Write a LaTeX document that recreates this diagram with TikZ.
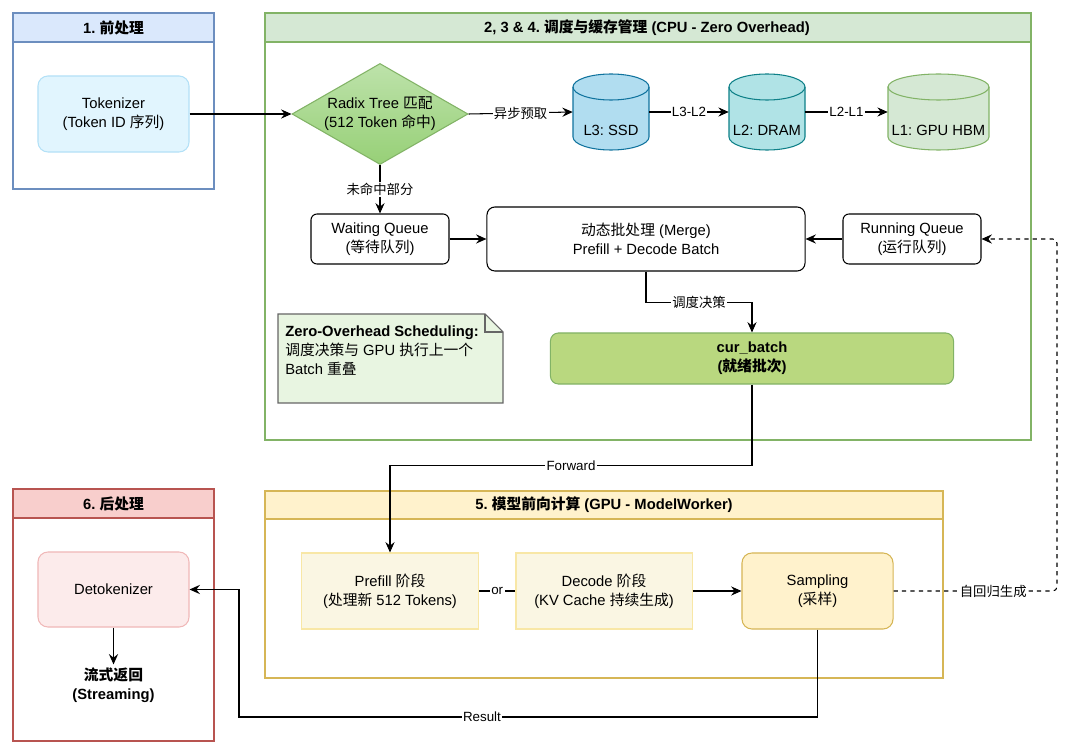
\documentclass[tikz,border=0pt]{standalone}
\usepackage{fontspec}
\setmainfont{Liberation Sans}
\newfontfamily\cjk{Noto Sans CJK SC}
\newcommand{\zh}[1]{{\cjk #1}}
\usetikzlibrary{shapes.geometric}
\usetikzlibrary{arrows.meta}
\frenchspacing

\definecolor{blueline}{HTML}{6C8EBF}
\definecolor{bluefill}{HTML}{DAE8FC}
\definecolor{greenline}{HTML}{82B366}
\definecolor{greenfill}{HTML}{D5E8D4}
\definecolor{yellowline}{HTML}{D6B656}
\definecolor{yellowfill}{HTML}{FFF2CC}
\definecolor{redline}{HTML}{B85450}
\definecolor{redfill}{HTML}{F8CECC}
\definecolor{tokfill}{HTML}{E1F5FE}
\definecolor{tokline}{HTML}{B3E1F7}
\definecolor{detokfill}{HTML}{FCEBEB}
\definecolor{detokline}{HTML}{F0B8B8}
\definecolor{stagefill}{HTML}{FAF6E3}
\definecolor{stageline}{HTML}{F8E7A6}
\definecolor{diamtop}{HTML}{BDE2AA}
\definecolor{diambot}{HTML}{97D077}
\definecolor{batchfill}{HTML}{B9D87F}
\definecolor{notefill}{HTML}{E8F5E1}
\definecolor{ssdfill}{HTML}{B1DDF0}
\definecolor{ssdline}{HTML}{10739E}
\definecolor{dramfill}{HTML}{B0E3E6}
\definecolor{dramline}{HTML}{0E8088}
\definecolor{hbmfill}{HTML}{D5E8D4}
\definecolor{hbmline}{HTML}{82B366}

\begin{document}
\begin{tikzpicture}[x=0.025cm, y=-0.025cm,
    font=\fontsize{10.5}{13.6}\selectfont,
    every node/.style={align=center, inner sep=0pt},
    lanetitle/.style={font=\fontsize{10.5}{13.6}\selectfont\bfseries},
    box/.style={draw, line width=0.75pt, rounded corners=0.15cm},
    arr/.style={-{Stealth[length=2.6mm, width=2.3mm, inset=0.9mm]}, line width=0.75pt},
    line/.style={line width=0.75pt},
    elabel/.style={fill=white, inner sep=1pt, font=\fontsize{9.5}{11}\selectfont}]

  \fill[white] (0,0) rectangle (1080,754);
  \useasboundingbox (0,0) rectangle (1080,754);

  % lanes
  \draw[line, draw=blueline] (13,13) rectangle (214,189);
  \draw[line, draw=blueline, fill=bluefill] (13,13) rectangle (214,42);
  \node[lanetitle] (pre-title) at (113.5,27.5) {1. \zh{前处理}};

  \draw[line, draw=greenline] (265,13) rectangle (1031,440);
  \draw[line, draw=greenline, fill=greenfill] (265,13) rectangle (1031,42);
  \node[lanetitle] (sched-title) at (647,27.5) {2, 3 \& 4. \zh{调度与缓存管理} (CPU - Zero Overhead)};

  \draw[line, draw=yellowline] (265,491) rectangle (943,678);
  \draw[line, draw=yellowline, fill=yellowfill] (265,491) rectangle (943,519);
  \node[lanetitle] (gpu-title) at (604,505) {5. \zh{模型前向计算} (GPU - ModelWorker)};

  \draw[line, draw=redline] (13,489) rectangle (214,741);
  \draw[line, draw=redline, fill=redfill] (13,489) rectangle (214,518);
  \node[lanetitle] (post-title) at (113.5,503.5) {6. \zh{后处理}};

  % nodes
  \node[box, draw=tokline, fill=tokfill, rounded corners=0.25cm, minimum width=3.775cm, minimum height=1.9cm]
    (tok) at (113.5,114) {Tokenizer\\(Token ID \zh{序列})};
  \node[diamond, draw=greenline, line width=0.75pt, top color=diamtop, bottom color=diambot,
    aspect=1.74, minimum width=4.4cm, minimum height=2.525cm]
    (radix) at (380,114) {Radix Tree \zh{匹配}\\(512 Token \zh{命中})};

  \foreach \n/\cx/\hw/\fc/\dc/\t in {ssd/611/38/ssdfill/ssdline/L3: SSD,
      dram/767/38/dramfill/dramline/L2: DRAM, hbm/938.5/50.5/hbmfill/hbmline/L1: GPU HBM}
  {
    \filldraw[line, fill=\fc, draw=\dc] ({\cx-\hw},87) -- ({\cx-\hw},137)
      arc[start angle=180, end angle=360, x radius=\hw*0.025cm, y radius=0.325cm]
      -- ({\cx+\hw},87)
      arc[start angle=0, end angle=180, x radius=\hw*0.025cm, y radius=0.325cm] -- cycle;
    \draw[line, draw=\dc] ({\cx-\hw},87)
      arc[start angle=180, end angle=360, x radius=\hw*0.025cm, y radius=0.325cm];
    \node[minimum width=2*\hw*0.025cm, minimum height=1.9cm] (\n) at (\cx,112) {};
    \node (\n-txt) at (\cx,130) {\t};
  }

  \node[box, minimum width=3.45cm, minimum height=1.25cm] (wait) at (380,239) {Waiting Queue\\(\zh{等待队列})};
  \node[box, rounded corners=0.2cm, minimum width=7.95cm, minimum height=1.6cm] (merge) at (646,239)
    {\zh{动态批处理} (Merge)\\Prefill + Decode Batch};
  \node[box, minimum width=3.45cm, minimum height=1.25cm] (run) at (912,239) {Running Queue\\(\zh{运行队列})};

  \filldraw[line, draw=black!60, fill=notefill] (278,314) -- (485,314) -- (503,332) -- (503,403) -- (278,403) -- cycle;
  \draw[line, draw=black!60] (485,314) -- (485,332) -- (503,332);
  \node[anchor=north west, align=left, font=\fontsize{10.5}{13.2}\selectfont] (note) at (285,326)
    {\textbf{Zero-Overhead Scheduling:}\\\zh{调度决策与} GPU \zh{执行上一个}\\Batch \zh{重叠}};

  \node[box, draw=greenline, fill=batchfill, rounded corners=0.2cm, minimum width=10.075cm, minimum height=1.275cm,
    font=\fontsize{10.5}{13.6}\selectfont\bfseries] (batch) at (752,358.5) {cur\_batch\\(\zh{就绪批次})};

  \node[draw=stageline, fill=stagefill, line width=0.75pt, minimum width=4.425cm, minimum height=1.9cm]
    (prefill) at (390,591) {Prefill \zh{阶段}\\(\zh{处理新} 512 Tokens)};
  \node[draw=stageline, fill=stagefill, line width=0.75pt, minimum width=4.4cm, minimum height=1.9cm]
    (decode) at (604,591) {Decode \zh{阶段}\\(KV Cache \zh{持续生成})};
  \node[box, draw=yellowline, fill=yellowfill, rounded corners=0.25cm, minimum width=3.775cm, minimum height=1.9cm]
    (samp) at (817.5,591) {Sampling\\(\zh{采样})};

  \node[box, draw=detokline, fill=detokfill, rounded corners=0.25cm, minimum width=3.775cm, minimum height=1.875cm]
    (detok) at (113.5,589.5) {Detokenizer};
  \node[font=\fontsize{10.5}{13.6}\selectfont\bfseries, inner sep=2pt] (stream) at (113.5,685) {\zh{流式返回}\\(Streaming)};

  % connectors
  \draw[arr] (tok.east) -- (radix.west);
  \draw[arr] (radix.east) -- node[elabel] {\zh{异步预取}} (ssd.west);
  \draw[arr] (ssd.east) -- node[elabel] {L3-L2} (dram.west);
  \draw[arr] (dram.east) -- node[elabel] {L2-L1} (hbm.west);
  \draw[arr] (radix.south) -- node[elabel] {\zh{未命中部分}} (wait.north);
  \draw[arr] (wait.east) -- (merge.west);
  \draw[arr] (run.west) -- (merge.east);
  \draw[arr] (merge.south) -- ++(0,31) -| node[elabel, pos=0.25] {\zh{调度决策}} (batch.north);
  \draw[arr] (batch.south) -- ++(0,81) -| node[elabel, pos=0.25] {Forward} (prefill.north);
  \draw[line] (prefill.east) -- node[elabel] {or} (decode.west);
  \draw[arr] (decode.east) -- (samp.west);

  \coordinate (res-low) at (239,717);
  \draw[arr] (samp.south) -- (samp.south |- res-low) -- node[elabel, pos=0.58] {Result} (res-low) |- (detok.east);

  \coordinate (loop-low) at (1057,591);
  \coordinate (loop-high) at (1057,239);
  \draw[arr, dash pattern=on 3pt off 3pt, rounded corners=3pt] (samp.east) -- node[elabel, pos=0.61] {\zh{自回归生成}}
    (loop-low) -- (loop-high) -- (run.east);

  \draw[arr] (detok.south) -- (stream.north);
\end{tikzpicture}
\end{document}
